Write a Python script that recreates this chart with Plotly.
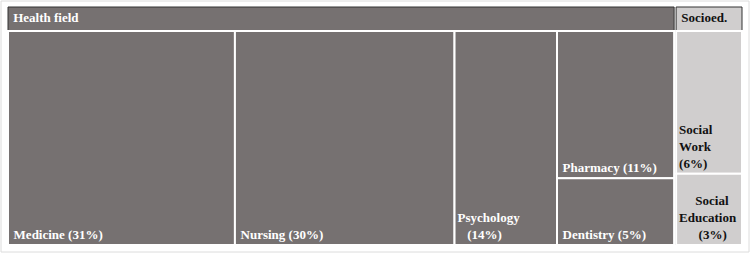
import plotly.graph_objects as go

labels = ["Health field", "Socioed.", "Medicine", "Nursing", "Psychology",
          "Pharmacy", "Dentistry", "Social Work", "Social Education"]
parents = ["", "", "Health field", "Health field", "Health field",
           "Health field", "Health field", "Socioed.", "Socioed."]
values = [91, 9, 31, 30, 14, 11, 5, 6, 3]
display = ["Health field", "Socioed.", "Medicine", "Nursing", "Psychology<br>\u00a0\u00a0\u00a0",
           "Pharmacy", "Dentistry", "Social<br>Work<br>", "\u00a0\u00a0\u00a0\u00a0\u00a0Social<br>Education<br>\u00a0\u00a0\u00a0\u00a0\u00a0\u00a0"]
group_colors = {"Health field": "#767171", "Socioed.": "#D0CECE"}
group_fonts = {"Health field": "white", "Socioed.": "#111111"}

FONT = "Liberation Serif"
fig = go.Figure()
roots = [l for l, p in zip(labels, parents) if p == ""]
total = sum(v for v, p in zip(values, parents) if p == "")
gap = 2 / 734
start = 0.0
for root in roots:
    idx = [i for i, (l, p) in enumerate(zip(labels, parents)) if l == root or p == root]
    ids = [labels[i] for i in idx]
    shown = [("\u2009\u2009" + labels[i]) if labels[i] == root else labels[i] for i in idx]
    ps = ["" if labels[i] == root else parents[i] for i in idx]
    vs = [values[i] for i in idx]
    head_t, child_t = [], []
    for i in idx:
        d = display[i]
        if labels[i] == root:
            head_t.append("\u2009\u2009" + d)
            child_t.append("")
        else:
            sep = "" if d.endswith("<br>") or d.endswith("\u00a0") else " "
            head_t.append("")
            child_t.append(f"\u2009{d}{sep}({values[i]}%)" if "<br>" not in d else f"{d}{sep}({values[i]}%)")
    rv = values[labels.index(root)]
    end = start + rv / total * (1 - gap * (len(roots) - 1))
    dom = dict(x=[start, min(end, 1)], y=[0, 1])
    lc = ["#333333" if l == root else "white" for l in ids]
    lw = [1 if l == root else 2 for l in ids]
    common = dict(ids=ids, labels=shown, parents=ps, values=vs, branchvalues="total",
                  texttemplate="%{text}", tiling=dict(packing="binary", pad=0),
                  pathbar=dict(visible=False), domain=dom, hoverinfo="none", sort=False)
    # fills, borders and header labels
    fig.add_trace(go.Treemap(
        text=head_t, textposition="top left",
        marker=dict(colors=[group_colors[root]] * len(ids),
                    line=dict(color=lc, width=lw),
                    pad=dict(t=24, l=0, r=0, b=0)),
        textfont=dict(family=FONT, size=13, weight="bold", color=group_fonts[root]),
        **common))
    # leaf labels at the bottom left of each tile
    fig.add_trace(go.Treemap(
        text=child_t, textposition="bottom left",
        marker=dict(colors=["rgba(0,0,0,0)"] * len(ids),
                    line=dict(color="rgba(0,0,0,0)", width=0),
                    pad=dict(t=24, l=0, r=0, b=0)),
        textfont=dict(family=FONT, size=13, weight="bold", color=group_fonts[root]),
        **common))
    start = end + gap

fig.update_layout(
    width=750, height=253,
    margin=dict(l=8, r=8, t=7, b=8),
    paper_bgcolor="white",
    font=dict(family=FONT, size=13),
    uniformtext=dict(minsize=13, mode="show"),
    shapes=[dict(type="rect", xref="paper", yref="paper",
                 x0=-7 / 734, x1=1 + 7 / 734, y0=-7 / 238, y1=1 + 6 / 238,
                 line=dict(color="#dcdcdc", width=1), fillcolor="rgba(0,0,0,0)")],
)
fig.write_html("out.html")
